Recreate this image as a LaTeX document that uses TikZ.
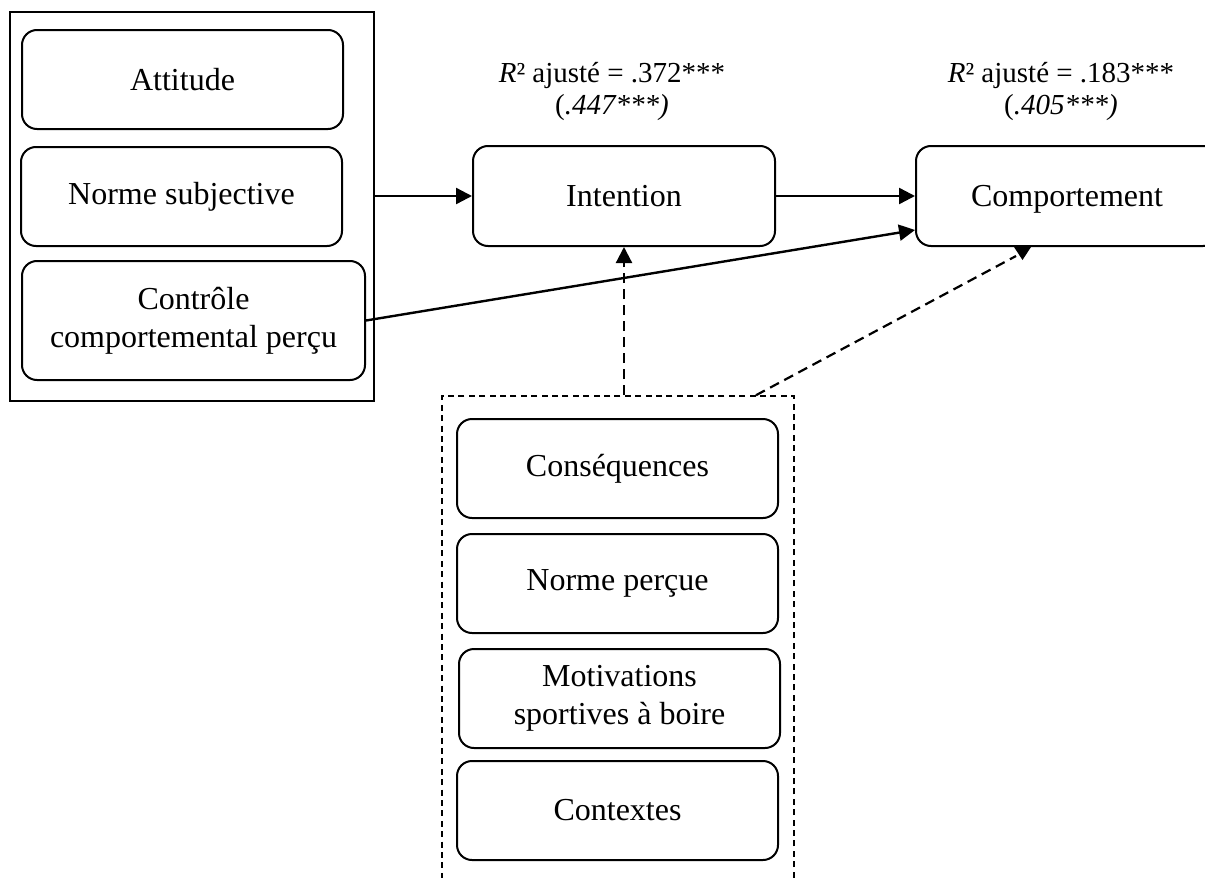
\documentclass[tikz,border=0pt]{standalone}
\usepackage{fontspec}
\setmainfont{Liberation Serif}
\usetikzlibrary{arrows.meta}
\begin{document}
\begin{tikzpicture}[x=0.5pt,y=-0.5pt,
  box/.style={draw,line width=1pt,rounded corners=7.5pt,inner sep=0pt,align=center,
    font=\fontsize{16}{19}\selectfont},
  frame/.style={draw,line width=1pt,inner sep=0pt},
  dframe/.style={draw,line width=0.8pt,inner sep=0pt,dash pattern=on 3pt off 2.2pt},
  lbl/.style={align=center,inner sep=0pt,font=\fontsize{14.5}{16}\selectfont},
  arr/.style={line width=1.2pt,-{Triangle[length=8pt,width=8pt]}},
  darr/.style={line width=1.1pt,dash pattern=on 5pt off 3pt,-{Triangle[length=8pt,width=8pt]}},
  dline/.style={line width=1.1pt,dash pattern=on 5pt off 3pt}]
\useasboundingbox (0,0) rectangle (1205,878);
% left group
\node[frame,minimum width=182pt,minimum height=194.5pt] (outer) at (192,206.5) {};
\node[box,minimum width=160.5pt,minimum height=49.5pt] (att) at (182.5,79.5) {Attitude};
\node[box,minimum width=160.5pt,minimum height=49.5pt] (ns) at (181.5,196.5) {Norme subjective};
\node[box,minimum width=171.5pt,minimum height=59.5pt] (ctrl) at (193.5,320.5) {Contrôle\\comportemental perçu};
% main nodes
\node[box,minimum width=151pt,minimum height=50pt] (int) at (624,196) {Intention};
\node[box,minimum width=151pt,minimum height=50pt,text depth=0pt] (comp) at (1067,196) {Comportement};
\node[lbl] (l1) at (612,92) {\textit{R}² ajusté = .372***\\(\textit{.447***)}};
\node[lbl] (l2) at (1061,92) {\textit{R}² ajusté = .183***\\(\textit{.405***)}};
% dashed group
\node[dframe,minimum width=176pt,minimum height=252pt] (grp) at (618,648) {};
\node[box,minimum width=160.5pt,minimum height=49.5pt] (cons) at (617.5,468.5) {Conséquences};
\node[box,minimum width=160.5pt,minimum height=49.5pt] (np) at (617.5,583.5) {Norme perçue};
\node[box,minimum width=160.5pt,minimum height=49.5pt] (mot) at (619.5,698.5) {Motivations\\sportives à boire};
\node[box,minimum width=160.5pt,minimum height=49.5pt] (ctx) at (617.5,810.5) {Contextes};
% connectors
\draw[arr] (outer.east |- int.west) -- (int.west);
\draw[arr] (int.east) -- (comp.west);
\draw[arr] (ctrl.east) -- ([yshift=-17pt]comp.west);
\draw[darr] (int.south |- grp.north) -- (int.south);
\coordinate (dstart) at ([xshift=69pt]grp.north);
\coordinate (dend) at ([xshift=-25.5pt,yshift=-4.5pt]comp.south);
\draw[dline] (dstart) -- (dend);
\fill ([xshift=-26.5pt]comp.south) -- ([xshift=-22.25pt,yshift=-6.5pt]comp.south) -- ([xshift=-18pt]comp.south) -- cycle;
\end{tikzpicture}
\end{document}
